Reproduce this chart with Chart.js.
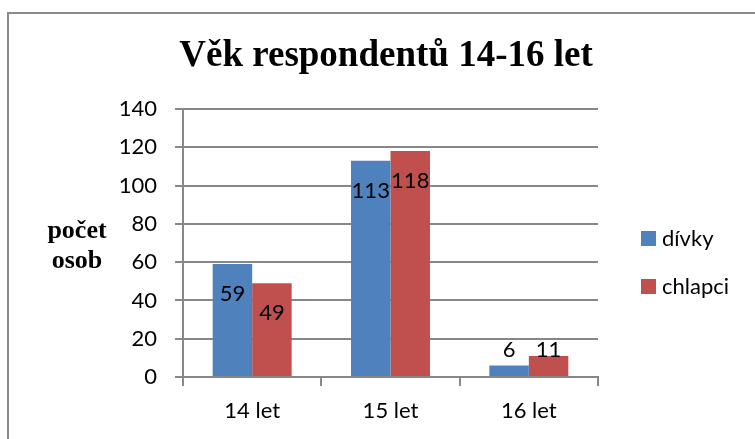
<!DOCTYPE html>
<html lang="cs">
<head>
  <meta charset="UTF-8">
  <title>Věk respondentů 14-16 let</title>
  <script src="https://cdn.jsdelivr.net/npm/chart.js"></script>
  <style>
    body { margin: 0; background: #fff; }
    #wrap { width: 755px; height: 439px; }
  </style>
</head>
<body>
  <div id="wrap"><canvas id="ageChart" width="755" height="439"></canvas></div>

  <script>
    const categories = ['14 let', '15 let', '16 let'];
    const divky = [59, 113, 6];
    const chlapci = [49, 118, 11];
    const seriesNames = ['dívky', 'chlapci'];
    const yTicks = [0, 20, 40, 60, 80, 100, 120, 140];

    const gridColor = '#878787';
    Chart.defaults.font.family = 'Lato, "Open Sans", sans-serif';
    Chart.defaults.color = '#000';

    // frame, title, y axis caption and legend drawn by hand
    const decor = {
      id: 'decor',
      beforeDraw(chart) {
        const c = chart.ctx;
        c.save();
        c.strokeStyle = '#8a8a8a';
        c.lineWidth = 2;
        c.beginPath();
        c.moveTo(8, 439);
        c.lineTo(8, 13);
        c.lineTo(755, 13);
        c.stroke();
        c.restore();
      },
      afterDraw(chart) {
        const c = chart.ctx;
        const area = chart.chartArea;
        c.save();
        c.fillStyle = '#000';
        c.textAlign = 'center';
        c.textBaseline = 'alphabetic';
        c.font = 'bold 37px "Liberation Serif", serif';
        c.fillText('Věk respondentů 14-16 let', 386, 66);

        c.font = 'bold 26px "Liberation Serif", serif';
        c.fillText('počet', 77, 238);
        c.fillText('osob', 77, 268);

        const mid = (area.top + area.bottom) / 2;
        c.textAlign = 'left';
        c.textBaseline = 'middle';
        c.font = '22px Lato, sans-serif';
        chart.data.datasets.forEach((ds, i) => {
          const cy = mid - 5 + i * 48;
          c.fillStyle = ds.backgroundColor;
          c.fillRect(area.right + 43, cy - 7, 15, 15);
          c.fillStyle = '#000';
          c.fillText(ds.label, area.right + 64, cy + 1);
        });
        c.restore();
      }
    };

    // value labels near the top inside each bar
    const valueLabels = {
      id: 'valueLabels',
      afterDatasetsDraw(chart) {
        const c = chart.ctx;
        c.save();
        c.fillStyle = '#000';
        c.font = '22px Lato, sans-serif';
        c.textAlign = 'center';
        c.textBaseline = 'middle';
        chart.data.datasets.forEach((ds, i) => {
          chart.getDatasetMeta(i).data.forEach((bar, j) => {
            const y = Math.min(bar.y + 30, bar.base - 26);
            c.fillText(String(ds.data[j]), bar.x, y);
          });
        });
        c.restore();
      }
    };

    new Chart(document.getElementById('ageChart'), {
      type: 'bar',
      data: {
        labels: categories,
        datasets: [
          { label: seriesNames[0], data: divky, backgroundColor: '#4F81BD' },
          { label: seriesNames[1], data: chlapci, backgroundColor: '#C0504D' }
        ]
      },
      options: {
        responsive: false,
        animation: false,
        categoryPercentage: 0.571,
        barPercentage: 1.0,
        layout: { padding: { top: 109, right: 157, bottom: 0, left: 0 } },
        plugins: {
          legend: { display: false },
          title: { display: false },
          tooltip: { enabled: false }
        },
        scales: {
          x: {
            afterFit(scale) { scale.height = 62; },
            grid: {
              drawOnChartArea: false,
              drawTicks: true,
              tickLength: 9,
              color: gridColor,
              lineWidth: 2
            },
            border: { color: gridColor, width: 2 },
            ticks: { font: { size: 22 }, padding: 12 }
          },
          y: {
            min: 0,
            max: 140,
            afterFit(scale) { scale.width = 183; },
            afterBuildTicks(scale) { scale.ticks = yTicks.map(v => ({ value: v })); },
            grid: {
              color: gridColor,
              lineWidth: 2,
              tickLength: 8
            },
            border: { color: gridColor, width: 2 },
            ticks: { font: { size: 22 }, padding: 18 }
          }
        }
      },
      plugins: [decor, valueLabels]
    });
  </script>
</body>
</html>
